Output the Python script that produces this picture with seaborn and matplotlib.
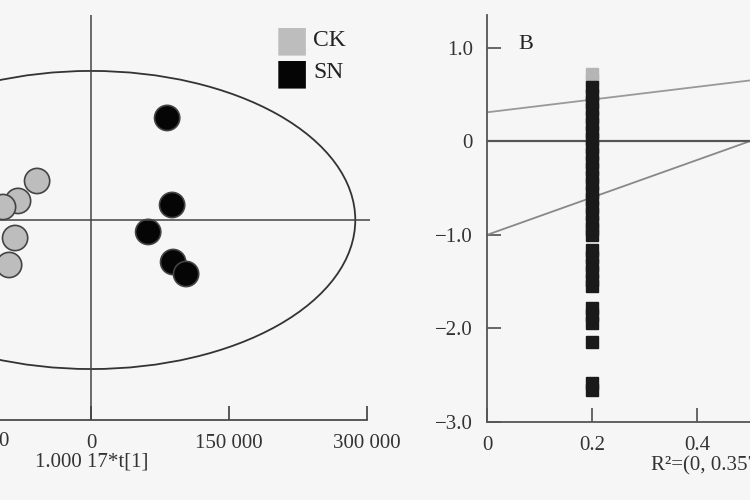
import numpy as np
import pandas as pd
import matplotlib
matplotlib.use('Agg')
import matplotlib.pyplot as plt
import seaborn as sns
from matplotlib.patches import Ellipse

sns.set_theme(style='white')
plt.rcParams['font.family'] = ['Liberation Serif', 'DejaVu Serif']

# --- panel A: score plot ---
ck_x = [-58700, -79400, -95700, -82600, -89100]
ck_y = [42400, 20700, 14100, -19600, -48900]
sn_x = [82600, 88000, 62000, 89100, 103200]
sn_y = [110900, 16300, -13000, -45700, -58700]
ellipse_w = 2 * 287000
ellipse_h = 2 * 162000
xticks_a = [0, 150000, 300000]
xticklabels_a = ['0', '150 000', '300 000']

# --- panel B: permutation test ---
q2_gray = [0.72, 0.66]
q2_black = [0.58, 0.50, 0.42, 0.34, 0.26, 0.18, 0.10, 0.02, -0.06, -0.14, -0.22,
            -0.30, -0.38, -0.46, -0.54, -0.62, -0.70, -0.78, -0.86, -0.94, -1.00,
            -1.16, -1.24, -1.32, -1.40, -1.48, -1.55, -1.78, -1.86, -1.94, -2.15,
            -2.58, -2.66]
r2_line = ([0, 0.5], [0.31, 0.65])
q2_line = ([0, 0.5], [-1.0, 0.0])
yticks_b = [1.0, 0, -1.0, -2.0, -3.0]
yticklabels_b = ['1.0', '0', '−1.0', '−2.0', '−3.0']
xticks_b = [0, 0.2, 0.4]

bg = '#f6f6f6'
fig = plt.figure(figsize=(7.5, 5), dpi=100, facecolor=bg)

# left panel
axA = fig.add_axes([0, 0.16, 370 / 750, 405 / 500], facecolor=bg)
df = pd.DataFrame({'x': ck_x + sn_x, 'y': ck_y + sn_y,
                   'g': ['CK'] * len(ck_x) + ['SN'] * len(sn_x)})
sns.scatterplot(data=df, x='x', y='y', hue='g', palette={'CK': '#bdbdbd', 'SN': '#050505'},
                s=330, edgecolor='#444444', linewidth=1.2, legend=False, ax=axA)
axA.add_patch(Ellipse((0, 0), ellipse_w, ellipse_h, fill=False, ec='#333333', lw=1.3))
axA.axhline(0, color='#444444', lw=1.1)
axA.axvline(0, color='#444444', lw=1.1)
for s in ['top', 'right', 'left']:
    axA.spines[s].set_visible(False)
axA.spines['bottom'].set_color('#444444')
axA.set_xticks(xticks_a)
axA.set_xticklabels(xticklabels_a, fontsize=15, color='#333333')
axA.tick_params(axis='x', direction='in', length=10, color='#444444', bottom=True, pad=10)
axA.set_yticks([])
axA.set_xlabel('')
axA.set_ylabel('')
axA.set_xlim(-99000, 303000)
axA.set_ylim(-217400, 222800)
axA.spines['bottom'].set_bounds(-99000, 300000)
# partly visible tick label of the cropped -150 000 tick
fig.text(9 / 750, 1 - 441 / 500, '−150 000', ha='right', va='center', fontsize=15, color='#333333')
fig.text(92 / 750, 1 - 462 / 500, '1.000 17*t[1]', ha='center', va='center', fontsize=15, color='#333333')

# legend squares
for lbl, col, py in [('CK', '#bdbdbd', 40), ('SN', '#050505', 73)]:
    fig.text(292 / 750, 1 - py / 500, '■', ha='center', va='center', fontsize=26, color=col,
             family=['DejaVu Sans'])
    fig.text(313 / 750, 1 - py / 500, lbl, ha='left', va='center', fontsize=17, color='#222222')

# right panel
axB = fig.add_axes([487 / 750, 1 - 422 / 500, (0.6 * 525) / 750, 407 / 500], facecolor=bg)
axB.plot(*r2_line, color='#999999', lw=1.3)
axB.plot(*q2_line, color='#888888', lw=1.3)
axB.axhline(0, color='#555555', lw=1.6)
axB.plot([0.2] * len(q2_gray), q2_gray, 's', color='#b5b5b5', ms=8)
axB.plot([0.2] * len(q2_black), q2_black, 's', color='#1a1a1a', ms=8)
for s in ['top', 'right']:
    axB.spines[s].set_visible(False)
for s in ['left', 'bottom']:
    axB.spines[s].set_color('#555555')
    axB.spines[s].set_linewidth(1.3)
axB.set_yticks(yticks_b)
axB.set_yticklabels(yticklabels_b, fontsize=15, color='#333333')
axB.set_xticks(xticks_b)
axB.set_xticklabels(['0', '0.2', '0.4'], fontsize=15, color='#333333')
axB.tick_params(axis='both', direction='in', length=10, color='#555555', left=True, bottom=True, pad=10)
axB.set_xlim(0, 0.6)
axB.set_ylim(-3.0, 1.35)
axB.text(0.06, 1.03, 'B', fontsize=16, color='#222222', va='center')
fig.text(651 / 750, 1 - 466 / 500, 'R²=(0, 0.357), Q²=(0, −0.98)', ha='left', va='center',
         fontsize=15, color='#333333')

fig.savefig('out.png', dpi=100, facecolor=bg)
